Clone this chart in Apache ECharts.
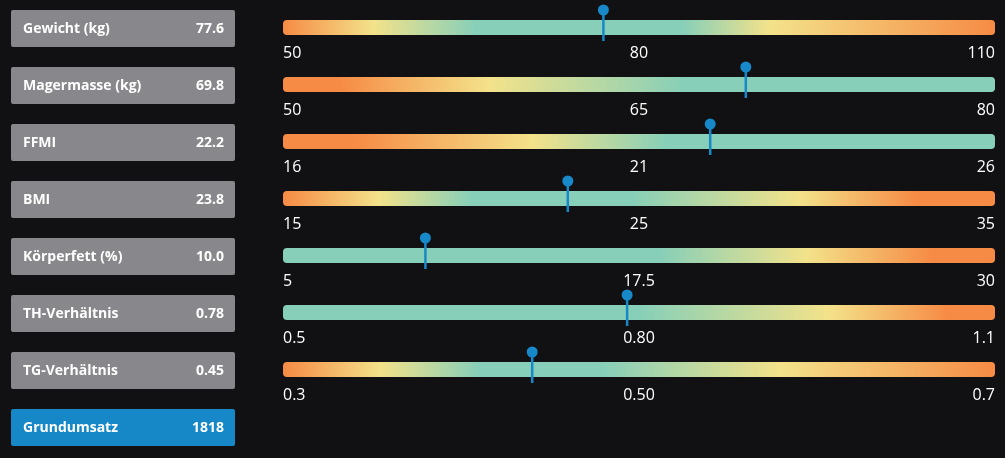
<!DOCTYPE html>
<html>
<head>
<meta charset="utf-8">
<script src="https://cdn.jsdelivr.net/npm/echarts@6/dist/echarts.min.js"></script>
<style>
  html, body { margin: 0; padding: 0; background: #111113; }
  #chart { width: 1005px; height: 458px; }
</style>
</head>
<body>
<div id="chart"></div>
<script>
const metricNames = ['Gewicht (kg)', 'Magermasse (kg)', 'FFMI', 'BMI', 'Körperfett (%)', 'TH-Verhältnis', 'TG-Verhältnis', 'Grundumsatz'];
const metricValues = ['77.6', '69.8', '22.2', '23.8', '10.0', '0.78', '0.45', '1818'];
const scaleMin = [50, 50, 16, 15, 5, 0.5, 0.3];
const scaleMax = [110, 80, 26, 35, 30, 1.1, 0.7];
const tickLabels = [
  ['50', '80', '110'],
  ['50', '65', '80'],
  ['16', '21', '26'],
  ['15', '25', '35'],
  ['5', '17.5', '30'],
  ['0.5', '0.80', '1.1'],
  ['0.3', '0.50', '0.7']
];
// where the pins sit on each scale
const markerValues = [77.0, 69.5, 22.0, 23.0, 10.0, 0.79, 0.44];
// colour bands: [value, zone]  o = orange, y = yellow, g = green
const zones = [
  [[50, 'o'], [57.6, 'y'], [66.3, 'g'], [83.7, 'g'], [91, 'y'], [110, 'o']],
  [[50, 'o'], [52.4, 'o'], [58.7, 'y'], [66.9, 'g'], [80, 'g']],
  [[16, 'o'], [17, 'o'], [19.5, 'y'], [21.4, 'g'], [26, 'g']],
  [[15, 'o'], [17.7, 'y'], [20.3, 'g'], [24.8, 'g'], [29.5, 'y'], [32.8, 'o'], [35, 'o']],
  [[5, 'g'], [18.2, 'g'], [23.4, 'y'], [27.8, 'o'], [30, 'o']],
  [[0.5, 'g'], [0.8, 'g'], [0.96, 'y'], [1.06, 'o'], [1.1, 'o']],
  [[0.3, 'o'], [0.355, 'y'], [0.41, 'g'], [0.48, 'g'], [0.58, 'y'], [0.7, 'o']]
];
const highlightIndex = 7;

const zoneColors = { o: '#f68b45', y: '#f3e28a', g: '#87cfb9' };
const pinColor = '#1788c8';
const rowGap = 57;

const chart = echarts.init(document.getElementById('chart'));

const grid = [], xAxis = [], yAxis = [], series = [];
scaleMin.forEach((min, i) => {
  const max = scaleMax[i];
  const stops = zones[i].map(([v, z]) => ({ offset: (v - min) / (max - min), color: zoneColors[z] }));
  grid.push({ left: 283, right: 10, top: 20 + rowGap * i, height: 15 });
  xAxis.push({
    gridIndex: i,
    type: 'value',
    min: min,
    max: max,
    interval: (max - min) / 2,
    axisLine: { show: false },
    axisTick: { show: false },
    splitLine: { show: false },
    axisLabel: {
      color: '#ffffff',
      fontSize: 16,
      fontFamily: 'Open Sans',
      margin: 10,
      alignMinLabel: 'left',
      alignMaxLabel: 'right',
      formatter: v => tickLabels[i][Math.round((v - min) / (max - min) * 2)]
    }
  });
  yAxis.push({ gridIndex: i, type: 'category', data: [''], show: false });

  // gradient track
  series.push({
    type: 'custom',
    xAxisIndex: i,
    yAxisIndex: i,
    silent: true,
    data: [[min, max, 0]],
    encode: { x: [0, 1], y: 2 },
    renderItem: (params, api) => {
      const a = api.coord([api.value(0), api.value(2)]);
      const b = api.coord([api.value(1), api.value(2)]);
      return {
        type: 'rect',
        shape: { x: a[0], y: a[1] - 7.5, width: b[0] - a[0], height: 15, r: 4 },
        style: { fill: new echarts.graphic.LinearGradient(0, 0, 1, 0, stops) }
      };
    }
  });

  // pin marker
  series.push({
    type: 'custom',
    xAxisIndex: i,
    yAxisIndex: i,
    silent: true,
    z: 3,
    data: [[markerValues[i], 0]],
    encode: { x: 0, y: 1 },
    renderItem: (params, api) => {
      const p = api.coord([api.value(0), api.value(1)]);
      return {
        type: 'group',
        children: [
          { type: 'line', shape: { x1: p[0], y1: p[1] - 17, x2: p[0], y2: p[1] + 13.5 }, style: { stroke: pinColor, lineWidth: 2.5 } },
          { type: 'circle', shape: { cx: p[0], cy: p[1] - 17.5, r: 5.5 }, style: { fill: pinColor } }
        ]
      };
    }
  });
});

const graphic = metricNames.map((name, i) => ({
  type: 'group',
  left: 11,
  top: 10 + rowGap * i,
  children: [
    { type: 'rect', shape: { x: 0, y: 0, width: 224, height: 37, r: 2 }, style: { fill: i === highlightIndex ? '#1688c8' : '#88878b' } },
    { type: 'text', x: 12, y: 19, style: { text: name, fill: '#ffffff', font: 'bold 14px "Open Sans"', verticalAlign: 'middle' } },
    { type: 'text', x: 213, y: 19, style: { text: metricValues[i], fill: '#ffffff', font: 'bold 14px "Open Sans"', align: 'right', verticalAlign: 'middle' } }
  ]
}));

chart.setOption({
  backgroundColor: '#111113',
  animation: false,
  grid: grid,
  xAxis: xAxis,
  yAxis: yAxis,
  series: series,
  graphic: graphic
});
</script>
</body>
</html>
